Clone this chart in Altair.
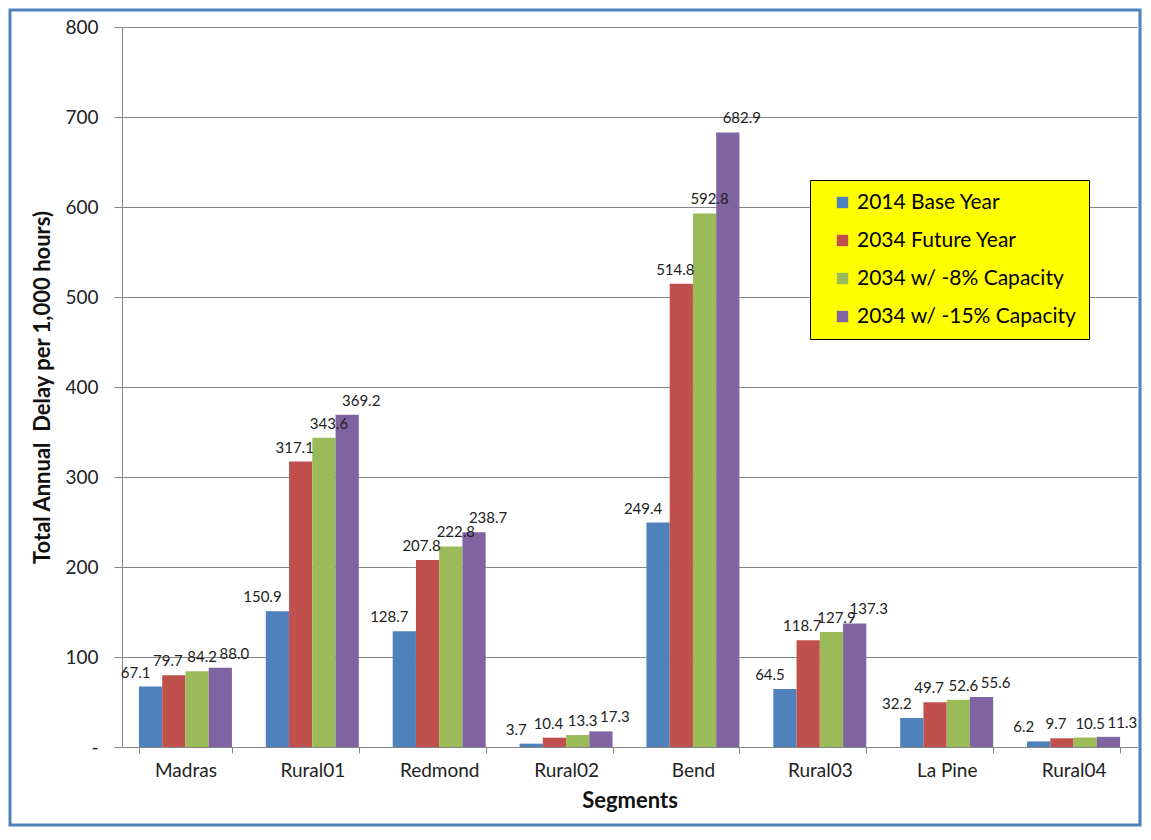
import altair as alt
import pandas as pd

segments = ["Madras", "Rural01", "Redmond", "Rural02", "Bend", "Rural03", "La Pine", "Rural04"]
series_names = ["2014 Base Year", "2034 Future Year", "2034 w/ -8% Capacity", "2034 w/ -15% Capacity"]
base_2014 = [67.1, 150.9, 128.7, 3.7, 249.4, 64.5, 32.2, 6.2]
future_2034 = [79.7, 317.1, 207.8, 10.4, 514.8, 118.7, 49.7, 9.7]
cap_minus8 = [84.2, 343.6, 222.8, 13.3, 592.8, 127.9, 52.6, 10.5]
cap_minus15 = [88.0, 369.2, 238.7, 17.3, 682.9, 137.3, 55.6, 11.3]
colors = ["#4F81BD", "#C0504D", "#9BBB59", "#8064A2"]

rows = []
for name, vals in zip(series_names, [base_2014, future_2034, cap_minus8, cap_minus15]):
    for seg, v in zip(segments, vals):
        rows.append({"segment": seg, "series": name, "value": v})
df = pd.DataFrame(rows)

FONT = "Lato"
GRAY = "#868686"

x_enc = alt.X("segment:N", sort=segments, title="Segments",
              scale=alt.Scale(paddingInner=0.267, paddingOuter=0.1335),
              axis=alt.Axis(labelAngle=0, tickBand="extent", labelFontSize=19,
                            labelPadding=8, tickSize=6, titleFontSize=22,
                            titleFontWeight="bold", titlePadding=10,
                            domainColor=GRAY, tickColor=GRAY, labelColor="#222222",
                            titleColor="#111111", grid=False))
y_enc = alt.Y("value:Q", title="Total Annual\u00a0 Delay per 1,000 hours)",
              scale=alt.Scale(domain=[0, 800], nice=False),
              axis=alt.Axis(values=[0, 100, 200, 300, 400, 500, 600, 700, 800],
                            labelExpr="datum.value == 0 ? '-' : datum.label",
                            labelFontSize=19, tickSize=8, labelPadding=16,
                            titleFontSize=22, titleFontWeight="bold", titlePadding=10,
                            domainColor=GRAY, tickColor=GRAY, gridColor=GRAY,
                            labelColor="#222222", titleColor="#111111"))
xoff_enc = alt.XOffset("series:N", sort=series_names,
                       scale=alt.Scale(domain=series_names, paddingInner=0, paddingOuter=0))

base = alt.Chart(df)

bars = base.mark_bar().encode(
    x=x_enc, y=y_enc, xOffset=xoff_enc,
    color=alt.Color("series:N", sort=series_names,
                    scale=alt.Scale(domain=series_names, range=colors),
                    legend=alt.Legend(title=None, orient="none", legendX=688, legendY=153,
                                      fillColor="#FFFF00", strokeColor="black",
                                      padding=12, symbolType="square", symbolSize=130,
                                      symbolStrokeWidth=0, labelFontSize=21,
                                      labelColor="#000000", rowPadding=16,
                                      labelFont=FONT, symbolOffset=10, labelLimit=0))
)

dxs = [-15, -6, 5, 14]
texts = []
for name, dx in zip(series_names, dxs):
    texts.append(
        base.transform_filter(alt.datum.series == name)
        .mark_text(dx=dx, dy=-6, baseline="bottom", fontSize=15, font=FONT, color="#222222")
        .encode(x=x_enc, y=y_enc, xOffset=xoff_enc, text=alt.Text("value:Q", format=".1f"))
    )

frame = alt.Chart(alt.Data(values=[{"a": 1}])).mark_rect(
    fillOpacity=0, stroke="#4F81BD", strokeWidth=3
).encode(x=alt.value(-112), x2=alt.value(1018), y=alt.value(-17), y2=alt.value(798))

chart = alt.layer(bars, *texts, frame).properties(
    width=1015, height=720,
    padding={"left": 114, "top": 19, "right": 5, "bottom": 80},
    autosize=alt.AutoSizeParams(type="none"),
).configure(font=FONT).configure_view(stroke=None).configure_axis(labelFont=FONT, titleFont=FONT)

chart.save("out.html", embed_options={"renderer": "svg", "actions": False})
